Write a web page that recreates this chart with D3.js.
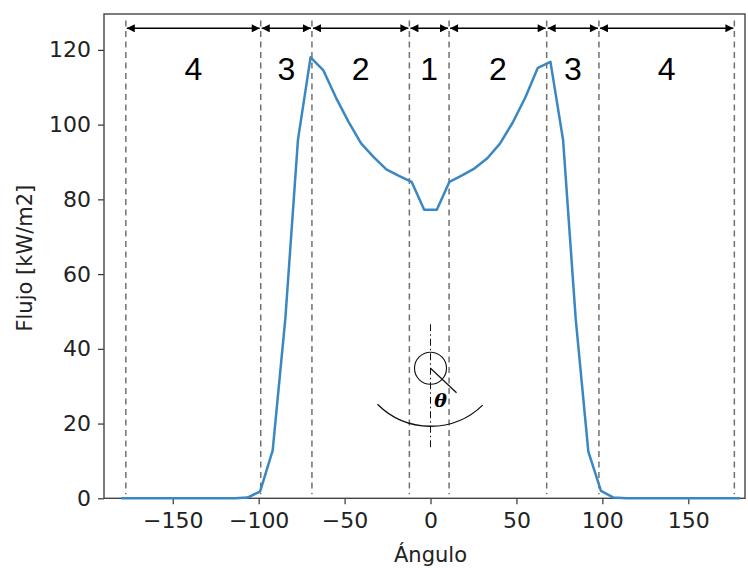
<!DOCTYPE html>
<html>
<head>
<meta charset="utf-8">
<script src="https://cdn.jsdelivr.net/npm/d3@7"></script>
<style>
  html, body { margin: 0; padding: 0; background: #fff; }
  svg { display: block; }
</style>
</head>
<body>
<svg id="chart" width="748" height="568"></svg>
<script>
// Heat flux around the tube, by angle (degrees)
const angles = [
  -180.00, -172.65, -165.31, -157.96, -150.61, -143.27, -135.92, -128.57, -121.22, -113.88,
  -106.53, -99.18, -91.84, -84.49, -77.14, -69.80, -62.45, -55.10, -47.76, -40.41,
  -33.06, -25.71, -18.37, -11.02, -3.67, 3.67, 11.02, 18.37, 25.71, 33.06,
  40.41, 47.76, 55.10, 62.45, 69.80, 77.14, 84.49, 91.84, 99.18, 106.53,
  113.88, 121.22, 128.57, 135.92, 143.27, 150.61, 157.96, 165.31, 172.65, 180.00
];
const flux = [
  0, 0, 0, 0, 0, 0, 0, 0, 0, 0,
  0.2, 1.8, 12.8, 48.0, 95.9, 118.0, 114.6, 107.3, 100.8, 95.0,
  91.3, 88.0, 86.3, 84.7, 77.2, 77.2, 84.7, 86.4, 88.3, 91.0,
  94.9, 100.5, 107.2, 115.2, 116.8, 95.9, 48.0, 12.5, 2.0, 0.2,
  0, 0, 0, 0, 0, 0, 0, 0, 0, 0
];

// Zone boundaries (dashed lines) and zone numbers between them
const zoneBounds = [-177.3, -98.8, -69.0, -12.3, 10.8, 67.6, 98.0, 176.8];
const zoneLabels = ["4", "3", "2", "1", "2", "3", "4"];

const xTicks = [-150, -100, -50, 0, 50, 100, 150];
const yTicks = [0, 20, 40, 60, 80, 100, 120];

const svg = d3.select("#chart");

const x = d3.scaleLinear().domain([-190, 183]).range([104, 745]);
const y = d3.scaleLinear().domain([0, 129.6]).range([498.3, 14]);

const fmt = d => (d < 0 ? "\u2212" + Math.abs(d) : String(d));

// Axes
const xAxis = svg.append("g")
  .attr("transform", `translate(0,${y(0)})`)
  .call(d3.axisBottom(x).tickValues(xTicks).tickFormat(fmt).tickSize(6).tickSizeOuter(0).tickPadding(8));
const yAxis = svg.append("g")
  .attr("transform", `translate(${x(-190)},0)`)
  .call(d3.axisLeft(y).tickValues(yTicks).tickFormat(fmt).tickSize(6).tickSizeOuter(0).tickPadding(7));

[xAxis, yAxis].forEach(g => {
  g.select(".domain").remove();
  g.selectAll(".tick line").attr("stroke", "#333").attr("stroke-width", 1.2);
  g.selectAll(".tick text")
    .attr("fill", "#222")
    .style("font-family", "DejaVu Sans, sans-serif")
    .style("font-size", "22px");
});

// Frame
svg.append("rect")
  .attr("x", x(-190)).attr("y", y(129.6))
  .attr("width", x(183) - x(-190)).attr("height", y(0) - y(129.6))
  .attr("fill", "none").attr("stroke", "#444").attr("stroke-width", 1.4);

// Axis titles
svg.append("text")
  .attr("x", x(0)).attr("y", 562)
  .attr("text-anchor", "middle")
  .attr("fill", "#222")
  .style("font-family", "DejaVu Sans, sans-serif")
  .style("font-size", "21px")
  .text("Ángulo");
svg.append("text")
  .attr("transform", `translate(32,${(y(0) + y(129.6)) / 2 + 2}) rotate(-90)`)
  .attr("text-anchor", "middle")
  .attr("fill", "#222")
  .style("font-family", "DejaVu Sans, sans-serif")
  .style("font-size", "21px")
  .text("Flujo [kW/m2]");

// Zone boundary lines
svg.append("g").selectAll("line").data(zoneBounds).join("line")
  .attr("x1", d => x(d)).attr("x2", d => x(d))
  .attr("y1", 20.5).attr("y2", y(0) - 4)
  .attr("stroke", "#707070").attr("stroke-width", 1.5)
  .attr("stroke-dasharray", "6,4.5");

// Double-headed arrows spanning each zone
const defs = svg.append("defs");
defs.append("marker")
  .attr("id", "head").attr("viewBox", "0 0 10 10")
  .attr("refX", 10).attr("refY", 5)
  .attr("markerWidth", 9).attr("markerHeight", 8)
  .attr("markerUnits", "userSpaceOnUse")
  .attr("orient", "auto-start-reverse")
  .append("path").attr("d", "M0,0 L10,5 L0,10 Z").attr("fill", "#000");

const spans = d3.pairs(zoneBounds);
svg.append("g").selectAll("line").data(spans).join("line")
  .attr("x1", d => x(d[0]) + 1).attr("x2", d => x(d[1]) - 1)
  .attr("y1", 28.3).attr("y2", 28.3)
  .attr("stroke", "#000").attr("stroke-width", 1.5)
  .attr("marker-start", "url(#head)").attr("marker-end", "url(#head)");

svg.append("g").selectAll("text").data(spans).join("text")
  .attr("x", (d, i) => x((d[0] + d[1]) / 2))
  .attr("y", 80)
  .attr("text-anchor", "middle")
  .attr("fill", "#000")
  .style("font-family", "Liberation Sans, Arial, sans-serif")
  .style("font-size", "32px")
  .text((d, i) => zoneLabels[i]);

// Flux curve
const pts = angles.map((a, i) => [a, flux[i]]);
svg.append("path")
  .datum(pts)
  .attr("fill", "none")
  .attr("stroke", "#3a87c2")
  .attr("stroke-width", 2.5)
  .attr("stroke-linejoin", "round")
  .attr("d", d3.line().x(d => x(d[0])).y(d => y(d[1])));

// Sketch of the tube and reflector with the angle θ
const cx = x(0), cy = y(34.8);
const g = svg.append("g").attr("fill", "none").attr("stroke", "#111");
g.append("line")
  .attr("x1", cx).attr("x2", cx).attr("y1", cy - 44).attr("y2", cy + 80)
  .attr("stroke-width", 1).attr("stroke-dasharray", "7,3,1.5,3");
g.append("circle").attr("cx", cx).attr("cy", cy).attr("r", 16).attr("stroke-width", 1.1);
g.append("line")
  .attr("x1", cx).attr("y1", cy)
  .attr("x2", cx + 26).attr("y2", cy + 24.5)
  .attr("stroke-width", 1.2);
const R = 75, acy = cy - 17;
const arcPath = d3.path();
arcPath.arc(cx, acy, R, Math.PI * 0.75, Math.PI * 0.255, true);
g.append("path").attr("d", arcPath.toString()).attr("stroke-width", 1.3);
svg.append("text")
  .attr("x", cx + 10).attr("y", cy + 39)
  .attr("text-anchor", "middle")
  .attr("fill", "#000")
  .style("font-family", "DejaVu Serif, serif")
  .style("font-weight", "bold")
  .style("font-style", "italic")
  .style("font-size", "19px")
  .text("θ");
</script>
</body>
</html>
